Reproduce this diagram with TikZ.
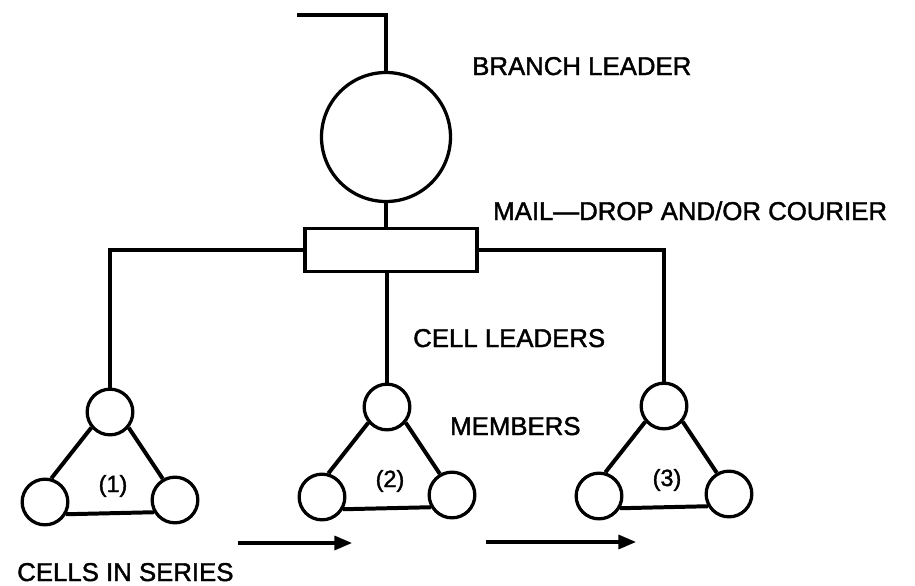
\documentclass[tikz,border=0pt]{standalone}
\usepackage{fontspec}
\setmainfont{Liberation Sans}[FakeBold=1.6,AutoFakeBold=1.6]
\usepackage{tikz}
\usetikzlibrary{arrows.meta,positioning}

\tikzset{
  wire/.style={line width=3.4pt},
  member/.style={draw, circle, line width=2.8pt, minimum size=1.37cm, inner sep=0pt},
  captext/.style={anchor=base west, inner sep=0pt, font=\fontsize{22}{26}\selectfont\bfseries},
  cellnum/.style={anchor=base, inner sep=0pt, font=\fontsize{20}{24}\selectfont\bfseries},
  series/.style={line width=2.6pt, -{Triangle[length=15pt,width=12pt]}}
}

\begin{document}
\begin{tikzpicture}[x=0.03cm,y=-0.03cm]
\useasboundingbox (0,0) rectangle (915,586);
% branch leader and mail-drop
\node[draw, circle, line width=2.8pt, minimum size=3.87cm] (leader) at (386,137) {};
\node[draw, line width=2.8pt, minimum width=5.16cm, minimum height=1.28cm] (drop) at (391,250) {};
\coordinate (feed) at (297,15);
\draw[wire] (feed) -| (leader.north);
\draw[wire] (leader.south) -- (leader.south |- drop.north);
% the three cells
\foreach \n/\x/\y in {1/110/412,2/387/407,3/664/406} {
  \node[member] (top\n) at (\x,\y) {};
  \node[member] (left\n) at (\x-65,\y+90) {};
  \node[member] (right\n) at (\x+65,\y+88) {};
  \draw[wire] (top\n.220) -- (left\n.75);
  \draw[wire] (left\n.-30) -- (right\n.210);
  \draw[wire] (right\n.120) -- (top\n.-40);
  \node[cellnum] (num\n) at (\x+3,\y+80) {(\n)};
}
\draw[wire] (drop.west) -| (top1.north);
\draw[wire] (drop.south -| top2) -- (top2.north);
\draw[wire] (drop.east) -| (top3.north);
% labels
\node[captext] (branch) at (472,75) {BRANCH LEADER};
\node[captext] (mail) at (493,220) {MAIL—DROP AND/OR COURIER};
\node[captext] (cellleaders) at (413,347) {CELL LEADERS};
\node[captext] (members) at (450,435) {MEMBERS};
\node[captext] (inseries) at (17,581) {CELLS IN SERIES};
% series arrows
\coordinate (s1a) at (238,543);
\coordinate (s1b) at (352,543);
\coordinate (s2a) at (486,542);
\coordinate (s2b) at (636,542);
\draw[series] (s1a) -- (s1b);
\draw[series] (s2a) -- (s2b);
\end{tikzpicture}
\end{document}
